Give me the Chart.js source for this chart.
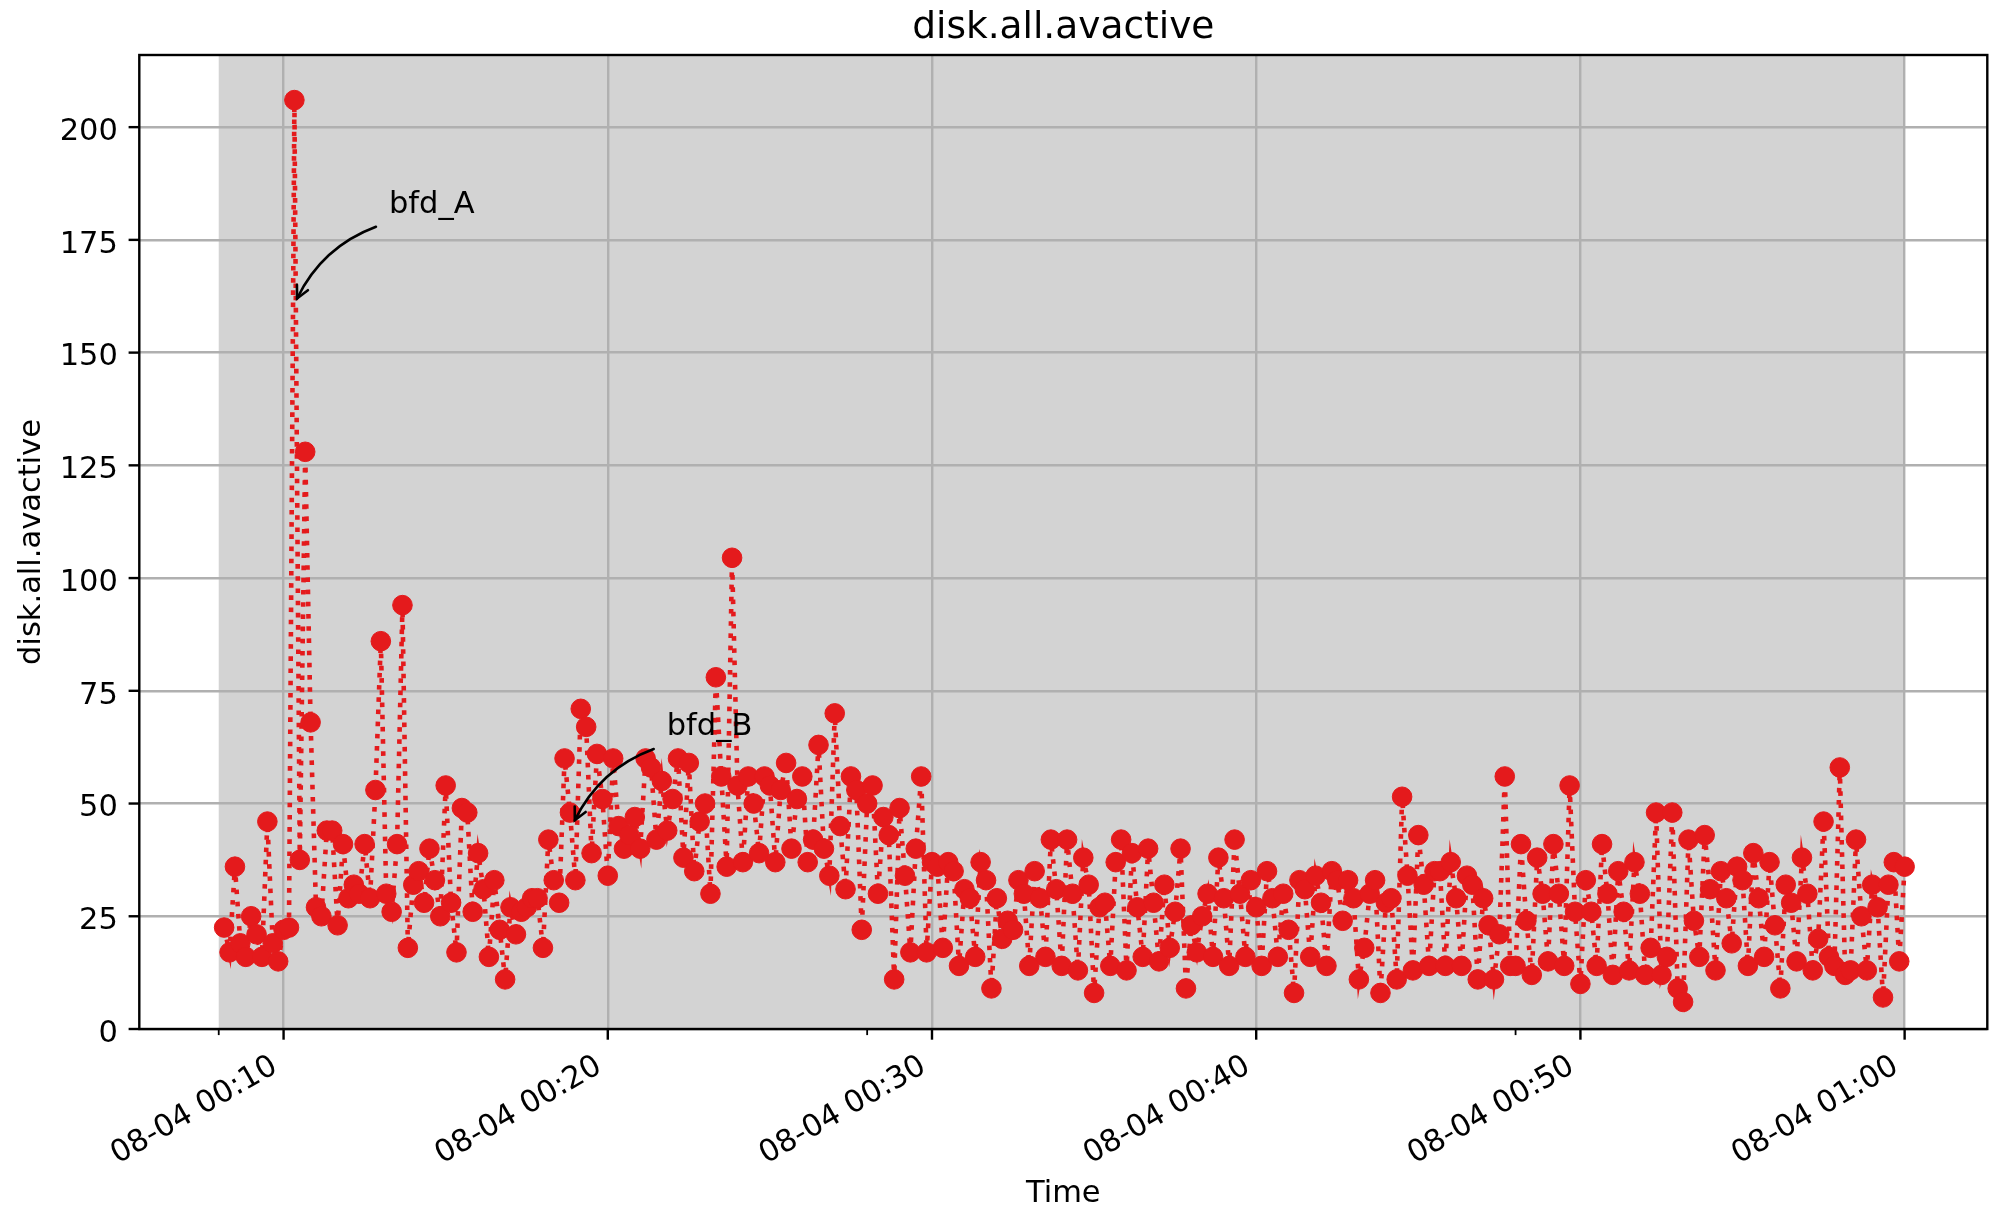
<!DOCTYPE html>
<html>
<head>
<meta charset="utf-8">
<title>disk.all.avactive</title>
<script src="https://cdn.jsdelivr.net/npm/chart.js@4.4.0/dist/chart.umd.min.js"></script>
<style>
  html, body { margin: 0; padding: 0; background: #fff; }
  #wrap { width: 1990px; height: 1211px; }
</style>
</head>
<body>
<div id="wrap"><canvas id="chart" width="1990" height="1211"></canvas></div>
<script>
// Sample times (10 s interval), 08-04
const sampleTimes = [
  '00:08:10','00:08:20','00:08:30','00:08:40','00:08:50',
  '00:09:00','00:09:10','00:09:20','00:09:30','00:09:40','00:09:50',
  '00:10:00','00:10:10','00:10:20','00:10:30','00:10:40','00:10:50',
  '00:11:00','00:11:10','00:11:20','00:11:30','00:11:40','00:11:50',
  '00:12:00','00:12:10','00:12:20','00:12:30','00:12:40','00:12:50',
  '00:13:00','00:13:10','00:13:20','00:13:30','00:13:40','00:13:50',
  '00:14:00','00:14:10','00:14:20','00:14:30','00:14:40','00:14:50',
  '00:15:00','00:15:10','00:15:20','00:15:30','00:15:40','00:15:50',
  '00:16:00','00:16:10','00:16:20','00:16:30','00:16:40','00:16:50',
  '00:17:00','00:17:10','00:17:20','00:17:30','00:17:40','00:17:50',
  '00:18:00','00:18:10','00:18:20','00:18:30','00:18:40','00:18:50',
  '00:19:00','00:19:10','00:19:20','00:19:30','00:19:40','00:19:50',
  '00:20:00','00:20:10','00:20:20','00:20:30','00:20:40','00:20:50',
  '00:21:00','00:21:10','00:21:20','00:21:30','00:21:40','00:21:50',
  '00:22:00','00:22:10','00:22:20','00:22:30','00:22:40','00:22:50',
  '00:23:00','00:23:10','00:23:20','00:23:30','00:23:40','00:23:50',
  '00:24:00','00:24:10','00:24:20','00:24:30','00:24:40','00:24:50',
  '00:25:00','00:25:10','00:25:20','00:25:30','00:25:40','00:25:50',
  '00:26:00','00:26:10','00:26:20','00:26:30','00:26:40','00:26:50',
  '00:27:00','00:27:10','00:27:20','00:27:30','00:27:40','00:27:50',
  '00:28:00','00:28:10','00:28:20','00:28:30','00:28:40','00:28:50',
  '00:29:00','00:29:10','00:29:20','00:29:30','00:29:40','00:29:50',
  '00:30:00','00:30:10','00:30:20','00:30:30','00:30:40','00:30:50',
  '00:31:00','00:31:10','00:31:20','00:31:30','00:31:40','00:31:50',
  '00:32:00','00:32:10','00:32:20','00:32:30','00:32:40','00:32:50',
  '00:33:00','00:33:10','00:33:20','00:33:30','00:33:40','00:33:50',
  '00:34:00','00:34:10','00:34:20','00:34:30','00:34:40','00:34:50',
  '00:35:00','00:35:10','00:35:20','00:35:30','00:35:40','00:35:50',
  '00:36:00','00:36:10','00:36:20','00:36:30','00:36:40','00:36:50',
  '00:37:00','00:37:10','00:37:20','00:37:30','00:37:40','00:37:50',
  '00:38:00','00:38:10','00:38:20','00:38:30','00:38:40','00:38:50',
  '00:39:00','00:39:10','00:39:20','00:39:30','00:39:40','00:39:50',
  '00:40:00','00:40:10','00:40:20','00:40:30','00:40:40','00:40:50',
  '00:41:00','00:41:10','00:41:20','00:41:30','00:41:40','00:41:50',
  '00:42:00','00:42:10','00:42:20','00:42:30','00:42:40','00:42:50',
  '00:43:00','00:43:10','00:43:20','00:43:30','00:43:40','00:43:50',
  '00:44:00','00:44:10','00:44:20','00:44:30','00:44:40','00:44:50',
  '00:45:00','00:45:10','00:45:20','00:45:30','00:45:40','00:45:50',
  '00:46:00','00:46:10','00:46:20','00:46:30','00:46:40','00:46:50',
  '00:47:00','00:47:10','00:47:20','00:47:30','00:47:40','00:47:50',
  '00:48:00','00:48:10','00:48:20','00:48:30','00:48:40','00:48:50',
  '00:49:00','00:49:10','00:49:20','00:49:30','00:49:40','00:49:50',
  '00:50:00','00:50:10','00:50:20','00:50:30','00:50:40','00:50:50',
  '00:51:00','00:51:10','00:51:20','00:51:30','00:51:40','00:51:50',
  '00:52:00','00:52:10','00:52:20','00:52:30','00:52:40','00:52:50',
  '00:53:00','00:53:10','00:53:20','00:53:30','00:53:40','00:53:50',
  '00:54:00','00:54:10','00:54:20','00:54:30','00:54:40','00:54:50',
  '00:55:00','00:55:10','00:55:20','00:55:30','00:55:40','00:55:50',
  '00:56:00','00:56:10','00:56:20','00:56:30','00:56:40','00:56:50',
  '00:57:00','00:57:10','00:57:20','00:57:30','00:57:40','00:57:50',
  '00:58:00','00:58:10','00:58:20','00:58:30','00:58:40','00:58:50',
  '00:59:00','00:59:10','00:59:20','00:59:30','00:59:40','00:59:50',
  '01:00:00'
];

// disk.all.avactive per sample
const avactive = [
  22.5, 17, 36, 19, 16, 25, 21, 16, 46, 19, 15, 22,
  22.5, 206, 37.5, 128, 68, 27, 25, 44, 44, 23, 41, 29, 32, 30, 41, 29,
  53, 86, 30, 26, 41, 94, 18, 32, 35, 28, 40, 33, 25, 54, 28, 17,
  49, 48, 26, 39, 31, 16, 33, 22, 11, 27, 21, 26, 27, 29, 29,
  18, 42, 33, 28, 60, 48, 33, 71, 67, 39, 61, 51, 34, 60, 45, 40,
  43, 47, 40, 60, 58, 42, 55, 44, 51, 60, 38, 59, 35, 46, 50, 30,
  78, 56, 36, 104.5, 54, 37, 56, 50, 39, 56, 54, 37, 53, 59, 40, 51,
  56, 37, 42, 63, 40, 34, 70, 45, 31, 56, 53, 22, 50, 54, 30, 47, 43,
  11, 49, 34, 17, 40, 56, 17, 37, 36, 18, 37, 35, 14, 31, 29, 16,
  37, 33, 9, 29, 20, 24, 22, 33, 30, 14, 35, 29, 16, 42, 31, 14,
  42, 30, 13, 38, 32, 8, 27, 28, 14, 37, 42, 13, 39, 27, 16, 40,
  28, 15, 32, 18, 26, 40, 9, 23, 17, 25, 30, 16, 38, 29, 14, 42,
  30, 16, 33, 27, 14, 35, 29, 16, 30, 22, 8, 33, 31, 16, 34, 28,
  14, 35, 33, 24, 33, 29, 11, 18, 30, 33, 8, 28, 29, 11, 51.5, 34,
  13, 43, 32, 14, 35, 35, 14, 37, 29, 14, 34, 32, 11, 29, 23, 11,
  21, 56, 14, 14, 41, 24, 12, 38, 30, 15, 41, 30, 14, 54, 26, 10,
  33, 26, 14, 41, 30, 12, 35, 26, 13, 37, 30, 12, 18, 48, 12, 16,
  48, 9, 6, 42, 24, 16, 43, 31, 13, 35, 29, 19, 36, 33, 14, 39,
  29, 16, 37, 23, 9, 32, 28, 15, 38, 30, 13, 20, 46, 16, 14, 58,
  12, 13, 42, 25, 13, 32, 27, 7, 32, 37, 15, 36
];

// Axis ticks
const xTickTimes  = ['00:10:00', '00:20:00', '00:30:00', '00:40:00', '00:50:00', '01:00:00'];
const xTickLabels = ['08-04 00:10', '08-04 00:20', '08-04 00:30', '08-04 00:40', '08-04 00:50', '08-04 01:00'];
const xMinorTimes = ['00:08:00', '00:28:00', '00:48:00'];
const yTicks = [0, 25, 50, 75, 100, 125, 150, 175, 200];

// Shaded window
const spanTimes = ['00:08:00', '01:00:00'];

// Annotated events
const annotations = [
  { text: 'bfd_A', at: '00:10:25', value: 162,  textAt: '00:13:15', textValue: 181 },
  { text: 'bfd_B', at: '00:18:59', value: 46.3, textAt: '00:21:49', textValue: 65.2 }
];

const TITLE = 'disk.all.avactive';
const X_LABEL = 'Time';
const Y_LABEL = 'disk.all.avactive';

const FONT = '"DejaVu Sans", "Liberation Sans", sans-serif';
const RED = '#e41a1c';
const TICK_FONT = 30.5;

function toSec(t) {
  const p = t.split(':').map(Number);
  return p[0] * 3600 + p[1] * 60 + p[2];
}

const points = sampleTimes.map((t, i) => ({ x: toSec(t), y: avactive[i] }));

const decor = {
  id: 'decor',
  beforeDraw(chart) {
    const { ctx, chartArea: a, scales: { x } } = chart;
    ctx.save();
    ctx.fillStyle = '#ffffff';
    ctx.fillRect(0, 0, chart.width, chart.height);
    const x0 = x.getPixelForValue(toSec(spanTimes[0]));
    const x1 = x.getPixelForValue(toSec(spanTimes[1]));
    ctx.fillStyle = '#d3d3d3';
    ctx.fillRect(x0, a.top, x1 - x0, a.bottom - a.top);
    ctx.restore();
  },
  afterDraw(chart) {
    const { ctx, chartArea: a, scales: { x, y } } = chart;
    ctx.save();

    // frame
    ctx.strokeStyle = '#000';
    ctx.lineWidth = 2.4;
    ctx.strokeRect(a.left, a.top, a.right - a.left, a.bottom - a.top);

    // y ticks and labels
    ctx.fillStyle = '#000';
    ctx.font = TICK_FONT + 'px ' + FONT;
    ctx.textAlign = 'right';
    ctx.textBaseline = 'alphabetic';
    yTicks.forEach(v => {
      const py = y.getPixelForValue(v);
      ctx.beginPath();
      ctx.moveTo(a.left, py);
      ctx.lineTo(a.left - 10.7, py);
      ctx.stroke();
      ctx.fillText(String(v), a.left - 21.4, py + 12.7);
    });

    // x major ticks and rotated labels
    xTickTimes.forEach((t, i) => {
      const px = x.getPixelForValue(toSec(t));
      ctx.beginPath();
      ctx.moveTo(px, a.bottom);
      ctx.lineTo(px, a.bottom + 10.7);
      ctx.stroke();
      ctx.save();
      ctx.translate(px - 4.5, a.bottom + 42);
      ctx.rotate(-Math.PI / 6);
      ctx.textAlign = 'right';
      ctx.textBaseline = 'alphabetic';
      ctx.fillText(xTickLabels[i], 0, 0);
      ctx.restore();
    });

    // x minor ticks
    ctx.lineWidth = 1.8;
    xMinorTimes.forEach(t => {
      const px = x.getPixelForValue(toSec(t));
      ctx.beginPath();
      ctx.moveTo(px, a.bottom);
      ctx.lineTo(px, a.bottom + 6.1);
      ctx.stroke();
    });

    // title and axis labels
    const cx = (a.left + a.right) / 2;
    ctx.textAlign = 'center';
    ctx.textBaseline = 'alphabetic';
    ctx.font = '37.5px ' + FONT;
    ctx.fillText(TITLE, cx, a.top - 17.5);
    ctx.font = TICK_FONT + 'px ' + FONT;
    ctx.fillText(X_LABEL, cx, 1202);
    ctx.save();
    ctx.translate(40, (a.top + a.bottom) / 2);
    ctx.rotate(-Math.PI / 2);
    ctx.fillText(Y_LABEL, 0, 0);
    ctx.restore();

    // annotations with curved arrows
    annotations.forEach(an => {
      const tx = x.getPixelForValue(toSec(an.textAt));
      const ty = y.getPixelForValue(an.textValue);
      ctx.textAlign = 'left';
      ctx.fillStyle = '#000';
      ctx.fillText(an.text, tx, ty);

      const x1 = tx - 13, y1 = ty + 14;
      const x2 = x.getPixelForValue(toSec(an.at));
      const y2 = y.getPixelForValue(an.value);
      const rad = 0.2;
      const mx = (x1 + x2) / 2, my = (y1 + y2) / 2;
      const dx = x2 - x1, dy = y2 - y1;
      const qx = mx - rad * dy, qy = my + rad * dx;
      ctx.strokeStyle = '#000';
      ctx.lineWidth = 2.6;
      ctx.lineCap = 'round';
      ctx.beginPath();
      ctx.moveTo(x1, y1);
      ctx.quadraticCurveTo(qx, qy, x2, y2);
      ctx.stroke();
      // open arrow head
      const ang = Math.atan2(y2 - qy, x2 - qx);
      const hl = 12.2, hw = 6.1;
      const bx = x2 - hl * Math.cos(ang), by = y2 - hl * Math.sin(ang);
      const nx = -Math.sin(ang), ny = Math.cos(ang);
      ctx.beginPath();
      ctx.moveTo(bx + hw * nx, by + hw * ny);
      ctx.lineTo(x2, y2);
      ctx.lineTo(bx - hw * nx, by - hw * ny);
      ctx.stroke();
    });

    ctx.restore();
  }
};

new Chart(document.getElementById('chart'), {
  type: 'line',
  data: {
    datasets: [{
      label: 'disk.all.avactive',
      data: points,
      borderColor: RED,
      backgroundColor: RED,
      borderWidth: 4.6,
      borderDash: [4.6, 7.6],
      borderCapStyle: 'butt',
      pointRadius: 9.8,
      pointBorderWidth: 1,
      pointBorderColor: RED,
      pointBackgroundColor: RED,
      pointHoverRadius: 9.8,
      tension: 0,
      fill: false
    }]
  },
  options: {
    responsive: false,
    devicePixelRatio: 1,
    animation: false,
    events: [],
    layout: { autoPadding: false, padding: { left: 139.3, right: 2.7, top: 55, bottom: 182 } },
    plugins: { legend: { display: false }, title: { display: false }, tooltip: { enabled: false } },
    scales: {
      x: {
        type: 'linear',
        min: 333,
        max: 3753,
        afterBuildTicks: s => { s.ticks = xTickTimes.map(t => ({ value: toSec(t) })); },
        afterFit: s => { s.height = 0; },
        ticks: { display: false },
        grid: { color: '#b0b0b0', lineWidth: 2.4, drawTicks: false },
        border: { display: false }
      },
      y: {
        type: 'linear',
        min: 0,
        max: 216,
        afterBuildTicks: s => { s.ticks = yTicks.map(v => ({ value: v })); },
        afterFit: s => { s.width = 0; },
        ticks: { display: false },
        grid: { color: '#b0b0b0', lineWidth: 2.4, drawTicks: false },
        border: { display: false }
      }
    }
  },
  plugins: [decor]
});
</script>
</body>
</html>
